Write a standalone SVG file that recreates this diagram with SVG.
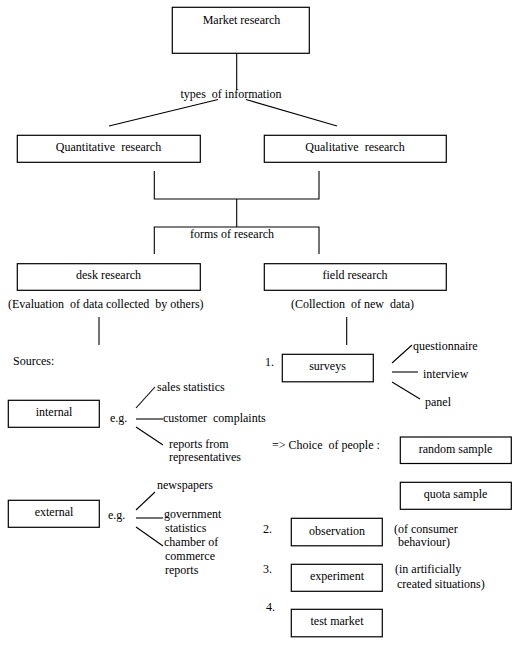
<svg xmlns="http://www.w3.org/2000/svg" width="514" height="647" viewBox="0 0 514 647">
<style>
text{font-size:12px;fill:#000}
.c{text-anchor:middle}
rect{fill:#fff;stroke:#000;stroke-width:1.2}
#connectors line,#connectors polyline{stroke:#000;stroke-width:1.1;fill:none}
</style>
<rect x="0" y="0" width="514" height="647" style="stroke:none;fill:#fff"/>
<g id="connectors">
<line x1="236.7" y1="53" x2="236.7" y2="90"/>
<line x1="218" y1="99.5" x2="109" y2="126"/>
<line x1="246" y1="99.5" x2="337" y2="126"/>
<polyline points="154.3,171 154.3,199 319,199 319,171"/>
<line x1="236.7" y1="199" x2="236.7" y2="227"/>
<polyline points="154.3,254 154.3,227 319,227 319,254"/>
<line x1="99" y1="317" x2="99" y2="345"/>
<line x1="346.7" y1="317" x2="346.7" y2="345"/>
<line x1="136" y1="408" x2="155" y2="387"/>
<line x1="136" y1="419" x2="163" y2="419"/>
<line x1="136" y1="427" x2="163" y2="445"/>
<line x1="136" y1="510" x2="155" y2="492"/>
<line x1="136" y1="518" x2="163" y2="518"/>
<line x1="136" y1="527" x2="163" y2="546"/>
<line x1="392" y1="363" x2="412" y2="345"/>
<line x1="392" y1="372" x2="418" y2="372"/>
<line x1="392" y1="382" x2="420" y2="399"/>
</g>
<g font-family="Liberation Serif, DejaVu Serif, serif">
<g id="market-research"><rect x="172.3" y="7.3" width="137" height="46"/><text class="c" x="241.5" y="24">Market research</text></g>
<text id="types-label" class="c" x="231" y="98" xml:space="preserve">types  of information</text>
<g id="quantitative"><rect x="17.3" y="135.3" width="183" height="27"/><text class="c" x="108.5" y="151" xml:space="preserve">Quantitative  research</text></g>
<g id="qualitative"><rect x="264.3" y="135.3" width="182" height="27"/><text class="c" x="355" y="151" xml:space="preserve">Qualitative  research</text></g>
<text id="forms-label" class="c" x="232" y="238">forms of research</text>
<g id="desk"><rect x="17.3" y="263.7" width="183" height="26.6"/><text class="c" x="108.5" y="279">desk research</text></g>
<g id="field"><rect x="264.3" y="263.7" width="182" height="26.6"/><text class="c" x="355" y="279">field research</text></g>
<text x="8" y="308" xml:space="preserve">(Evaluation  of data collected  by others)</text>
<text x="291" y="308" xml:space="preserve">(Collection  of new  data)</text>
<text x="13" y="365">Sources:</text>
<g id="internal"><rect x="8.3" y="400.3" width="91" height="27"/><text class="c" x="54" y="416">internal</text></g>
<text x="110" y="422">e.g.</text>
<text x="157" y="391">sales statistics</text>
<text x="163" y="422" xml:space="preserve">customer  complaints</text>
<text x="169" y="448">reports from</text>
<text x="169" y="461">representatives</text>
<g id="external"><rect x="8.3" y="500.3" width="91" height="27"/><text class="c" x="54" y="516">external</text></g>
<text x="108" y="519">e.g.</text>
<text x="157" y="489">newspapers</text>
<text x="164" y="518">government</text>
<text x="165" y="532">statistics</text>
<text x="164" y="546">chamber of</text>
<text x="165" y="560">commerce</text>
<text x="165" y="574">reports</text>
<text x="265" y="366">1.</text>
<g id="surveys"><rect x="282.3" y="354.3" width="91" height="27.5"/><text class="c" x="327.5" y="370">surveys</text></g>
<text x="413" y="350">questionnaire</text>
<text x="423" y="378">interview</text>
<text x="425" y="406">panel</text>
<text x="272" y="449" xml:space="preserve">=&gt; Choice  of people :</text>
<g id="random-sample"><rect x="400.3" y="437" width="111" height="26.5"/><text class="c" x="455.5" y="453">random sample</text></g>
<g id="quota-sample"><rect x="400.3" y="482.3" width="111" height="27"/><text class="c" x="455.5" y="498">quota sample</text></g>
<text x="263" y="533">2.</text>
<g id="observation"><rect x="291.3" y="518.3" width="91" height="27.5"/><text class="c" x="337" y="535">observation</text></g>
<text x="394" y="533">(of consumer</text>
<text x="398" y="546">behaviour)</text>
<text x="263" y="573">3.</text>
<g id="experiment"><rect x="291.3" y="564.3" width="91" height="27"/><text class="c" x="337" y="580">experiment</text></g>
<text x="395" y="573">(in artificially</text>
<text x="397" y="588">created situations)</text>
<text x="266" y="611">4.</text>
<g id="test-market"><rect x="291.3" y="609.3" width="91" height="27.5"/><text class="c" x="337" y="625">test market</text></g>
</g>
</svg>
